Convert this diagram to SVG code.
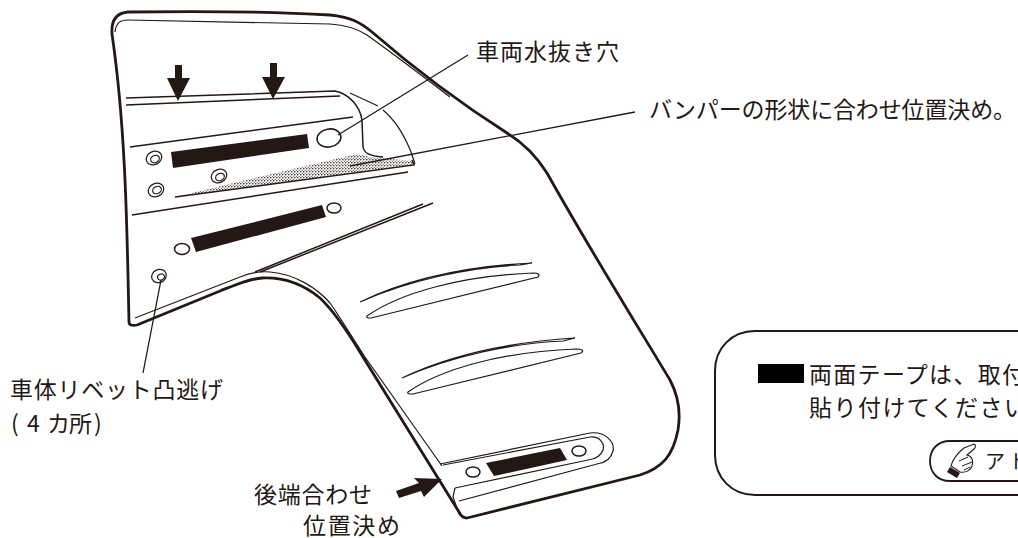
<svg xmlns="http://www.w3.org/2000/svg" width="1018" height="538" viewBox="0 0 1018 538">
<style>
text{font-family:"Noto Sans CJK JP","Noto Sans",sans-serif;fill:#231815;font-size:23px}
.a{font-size:20px}
.o{fill:none;stroke:#231815;stroke-width:2.8;stroke-linejoin:round;stroke-linecap:round}
.t{fill:none;stroke:#231815;stroke-width:1.2}
.m{fill:none;stroke:#231815;stroke-width:1.5}
.l{fill:none;stroke:#231815;stroke-width:1.3}
.k{fill:#231815}
.h{fill:#fff;stroke:#231815;stroke-width:1.5}
</style>
<defs>
<pattern id="dots" width="3" height="3" patternUnits="userSpaceOnUse">
<rect width="3" height="3" fill="#fff"/>
<circle cx=".8" cy=".8" r=".8" fill="#231815"/>
<circle cx="2.3" cy="2.3" r=".55" fill="#231815"/>
</pattern>
</defs>
<rect width="1018" height="538" fill="#fff"/>
<g id="part">
<path class="o" d="M129 322C127 230 126 130 112 34C111 21 116 13 128 12C200 11 280 12 330 15C350 17 360 22 372 32C410 65 460 103 507 133C525 144 537 157 547 173C590 250 640 330 670 380C679 397 681 412 678 430C673 456 662 468 640 475C580 490 520 505 467 518C463 518 461 516 459 512L363 357C348 332 335 312 320 298C303 284 285 277 262 278C248 279 235 285 220 291L137 325C132 326 129 325 129 322Z"/>
<path class="t" d="M135 318L240 277C250 273 260 271 270 272C295 274 317 288 330 303C340 317 352 337 365 357L442 466M459 514L453 497L455 488"/>
<path class="t" d="M115 32C116 23 120 20 128 20L330 24C345 25 358 29 367 35C395 55 425 78 450 97"/>
<path class="m" d="M126 98L335 91C350 94 360 107 362 120L363 147C364 153 369 156 383 157"/>
<path class="m" d="M126 105L340 96"/>
<path class="t" d="M350 93L378 106M383 110C395 120 405 137 411 152L415 164"/>
<path class="m" d="M130 147L353 117M132 215L408 172"/>
<path d="M175 197L357 154L370 157L412 161L414 165Z" fill="url(#dots)" stroke="none"/>
<path class="m" d="M175 197L414 165L412 160"/>
<path class="m" d="M255 272L423 204M260 272L433 203"/>
<path class="k" d="M171 152L307 134L309 148L173 168ZM191 238L322 205L326 217L196 252ZM486 463L560 448L567 460L494 476Z"/>
<ellipse class="h" cx="329" cy="138" rx="12" ry="9" transform="rotate(-10 329 138)"/>
<ellipse class="h" cx="182" cy="249" rx="7.5" ry="5.5"/>
<ellipse class="h" cx="334" cy="208" rx="7" ry="5"/>
<ellipse class="h" cx="473" cy="472" rx="7" ry="5"/>
<ellipse class="h" cx="579" cy="451" rx="7" ry="5"/>
<g>
<ellipse class="t" cx="154" cy="158" rx="8" ry="6.5" transform="rotate(-25 154 158)"/><ellipse class="t" cx="155" cy="159" rx="4.5" ry="3.5" transform="rotate(-25 155 159)"/>
<ellipse class="t" cx="219" cy="176" rx="8" ry="6.5" transform="rotate(-25 219 176)"/><ellipse class="t" cx="220" cy="177" rx="4.5" ry="3.5" transform="rotate(-25 220 177)"/>
<ellipse class="t" cx="156" cy="190" rx="8" ry="6.5" transform="rotate(-25 156 190)"/><ellipse class="t" cx="157" cy="190" rx="4.5" ry="3.5" transform="rotate(-25 157 190)"/>
<ellipse class="t" cx="159" cy="276" rx="7.5" ry="6.5" transform="rotate(-25 159 276)"/><ellipse class="t" cx="161" cy="277" rx="3.5" ry="3" transform="rotate(-25 161 277)"/>
</g>
<path class="t" d="M360 302C410 278 470 266 532 263L520 265C470 267 410 280 360 302Z"/>
<path class="t" d="M367 316C400 293 460 276 533 273C539 273 540 275 538 277L371 318C368 318 366 318 367 316Z"/>
<path class="t" d="M402 378C452 354 512 342 575 338L563 341C513 343 452 356 402 378Z"/>
<path class="t" d="M408 392C441 369 501 352 576 349C583 349 584 351 581 353L413 394C409 394 407 394 408 392Z"/>
<path class="t" d="M440 464L590 433C605 431 615 442 613 451C611 459 604 463 597 464L459 501"/>
<path class="t" d="M443 465L590 437C600 436 605 444 603 450C601 456 596 459 588 460L455 488"/>
<path class="k" d="M175 65H182V78H190L178 101L167 78H175ZM270 63H277V77H285L273 99L262 77H270Z"/>
<path class="k" d="M396 491L419 483L414 478L442 479L424 497L421 491L399 498Z"/>
</g>
<g id="connectors">
<path class="l" d="M338 135L468 55M350 166L635 112M161 280L143 373"/>
</g>
<g id="label-hole"><text x="476" y="60" textLength="143" lengthAdjust="spacing">車両水抜き穴</text></g>
<g id="label-bumper"><text x="649" y="118" textLength="367" lengthAdjust="spacing">バンパーの形状に合わせ位置決め。</text></g>
<g id="label-rivet"><text x="10" y="398" textLength="213" lengthAdjust="spacing">車体リベット凸逃げ</text><text y="432" x="11 27 47 69 94">(4カ所)</text></g>
<g id="label-rear"><text x="254" y="503" textLength="118" lengthAdjust="spacing">後端合わせ</text><text x="303" y="534" textLength="97" lengthAdjust="spacing">位置決め</text></g>
<g id="note">
<path d="M1020 331H755C732 331 715 348 715 371V455C715 478 732 495 755 495H1020" fill="none" stroke="#231815" stroke-width="2"/>
<rect x="758" y="364" width="46" height="19" fill="#000"/>
<text x="809" y="383" textLength="216" lengthAdjust="spacing">両面テープは、取付</text>
<text x="809" y="416" textLength="218" lengthAdjust="spacing">貼り付けてください</text>
<path d="M1020 441H950C938 441 930 449 930 461C930 473 938 481 950 481H1020" fill="none" stroke="#231815" stroke-width="1.8"/>
<g id="hand">
<path d="M947 472L957 478L960 473L950 467Z" fill="#231815"/>
<path d="M951 466C953 458 959 452 964 448L974 444C976 445 976 447 974 449L967 455C972 456 974 461 972 466C971 470 966 473 960 472Z" fill="#fff" stroke="#231815" stroke-width="1.1"/>
<path d="M959 461L968 457M962 466L972 462M964 470L970 467" fill="none" stroke="#231815" stroke-width="1"/>
</g>
<text class="a" x="985" y="469" textLength="44" lengthAdjust="spacing">アド</text>
</g>
</svg>
